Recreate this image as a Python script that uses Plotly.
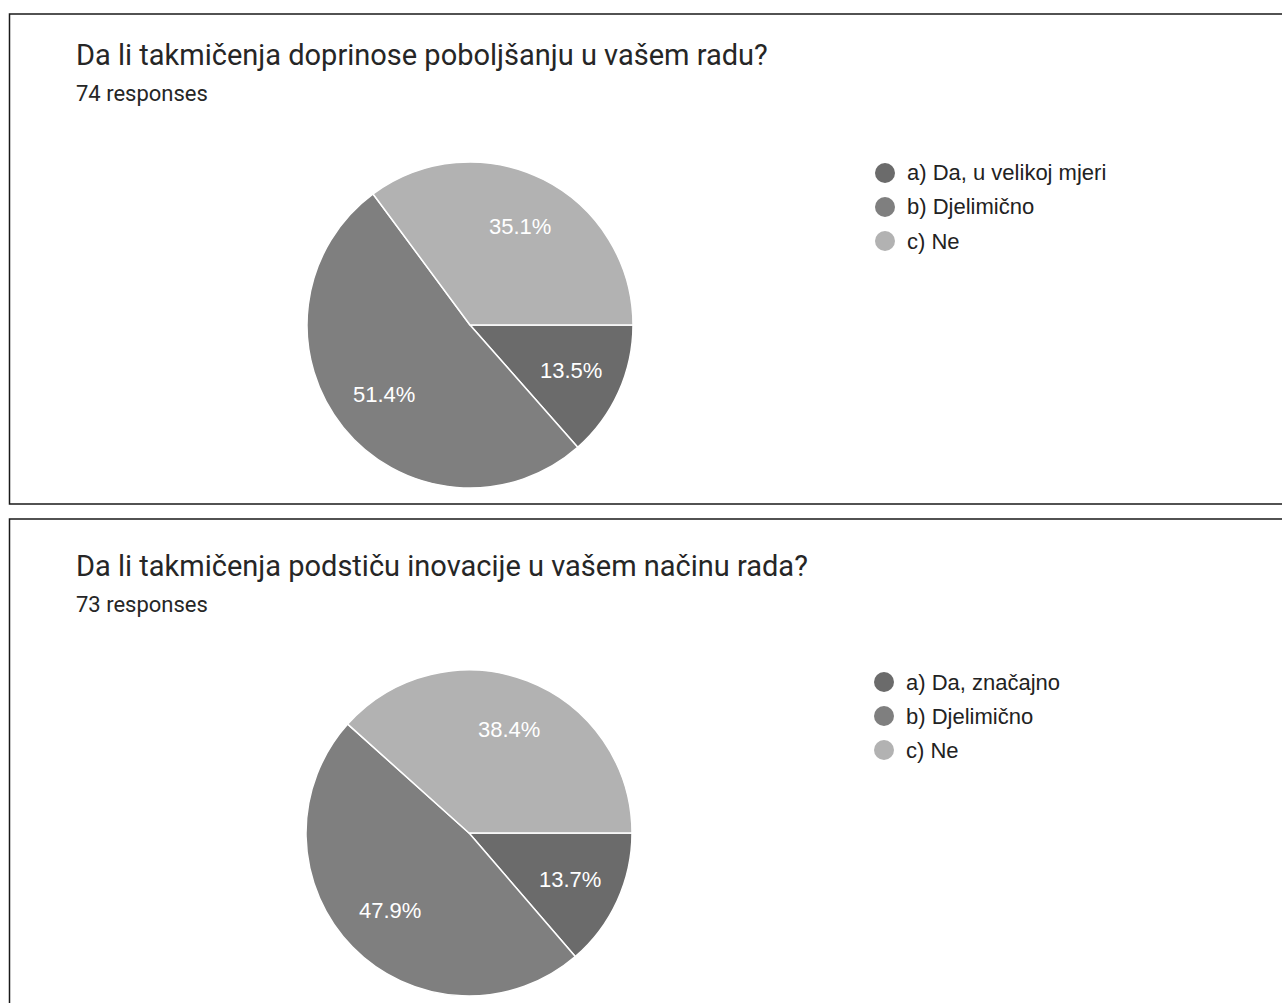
import math
import plotly.graph_objects as go

W, H = 1282, 1003

# ---- data ----
titles = [
    "Da li takmičenja doprinose poboljšanju u vašem radu?",
    "Da li takmičenja podstiču inovacije u vašem načinu rada?",
]
responses = [74, 73]
labels_1 = ["a) Da, u velikoj mjeri", "b) Djelimično", "c) Ne"]
labels_2 = ["a) Da, značajno", "b) Djelimično", "c) Ne"]
counts_1 = [10, 38, 26]
counts_2 = [10, 35, 28]
colors = ["#6b6b6b", "#7f7f7f", "#b2b2b2"]

# ---- layout constants (pixels) ----
panels = [
    dict(top=14, bottom=504, cx=470, cy=325, r=163, title_y=55, resp_y=93,
         leg_x=885, leg_y=173),
    dict(top=519, bottom=1030, cx=469, cy=833, r=163, title_y=566, resp_y=604,
         leg_x=884, leg_y=682),
]
LEG_DY = 34


def px(x):
    return x / W


def py(y):
    return 1 - y / H


fig = go.Figure()
shapes = []
annotations = []

for p, title, n, labels, counts in zip(panels, titles, responses,
                                       [labels_1, labels_2], [counts_1, counts_2]):
    cx, cy, r = p["cx"], p["cy"], p["r"]
    fig.add_trace(go.Pie(
        labels=labels, values=counts, sort=False, direction="clockwise",
        rotation=90, textinfo="none", hoverinfo="label+percent",
        marker=dict(colors=colors, line=dict(color="white", width=1.5)),
        domain=dict(x=[px(cx - r), px(cx + r)], y=[py(cy + r), py(cy - r)]),
        showlegend=False,
    ))
    # panel border
    shapes.append(dict(type="rect", xref="paper", yref="paper",
                       x0=px(9.5), x1=px(1300), y0=py(p["bottom"]), y1=py(p["top"]),
                       line=dict(color="#1a1a1a", width=1.5), fillcolor="rgba(0,0,0,0)"))
    # titles
    annotations.append(dict(x=px(74), y=py(p["title_y"]), xref="paper", yref="paper",
                            text=title, showarrow=False, xanchor="left", yanchor="middle",
                            font=dict(family="Roboto", size=29, color="#262626")))
    annotations.append(dict(x=px(74), y=py(p["resp_y"]), xref="paper", yref="paper",
                            text=f"{n} responses", showarrow=False, xanchor="left",
                            yanchor="middle",
                            font=dict(family="Roboto", size=22, color="#262626")))
    # percent labels computed from data
    total = sum(counts)
    cum = 0
    for c in counts:
        mid = (cum + c / 2) / total * 2 * math.pi
        cum += c
        k = 0.68
        lx = cx + k * r * math.cos(mid)
        ly = cy + k * r * math.sin(mid)
        annotations.append(dict(x=px(lx), y=py(ly), xref="paper", yref="paper",
                                text=f"{100 * c / total:.1f}%", showarrow=False,
                                xanchor="center", yanchor="middle",
                                font=dict(family="Liberation Sans, Arial", size=22,
                                          color="white")))
    # legend
    for i, (lab, col) in enumerate(zip(labels, colors)):
        yy = p["leg_y"] + i * LEG_DY
        shapes.append(dict(type="circle", xref="paper", yref="paper",
                           x0=px(p["leg_x"] - 10), x1=px(p["leg_x"] + 10),
                           y0=py(yy + 10), y1=py(yy - 10),
                           fillcolor=col, line=dict(width=0)))
        annotations.append(dict(x=px(p["leg_x"] + 20), y=py(yy), xref="paper", yref="paper",
                                text=lab, showarrow=False, xanchor="left", yanchor="middle",
                                font=dict(family="Liberation Sans, Arial", size=22,
                                          color="#222222")))

fig.update_layout(
    width=W, height=H, margin=dict(l=0, r=0, t=0, b=0),
    paper_bgcolor="white", plot_bgcolor="white",
    shapes=shapes, annotations=annotations, showlegend=False,
)

fig.write_html("out.html", config={"displayModeBar": False},
               post_script="document.body.style.margin='0';document.body.style.overflow='hidden';")
